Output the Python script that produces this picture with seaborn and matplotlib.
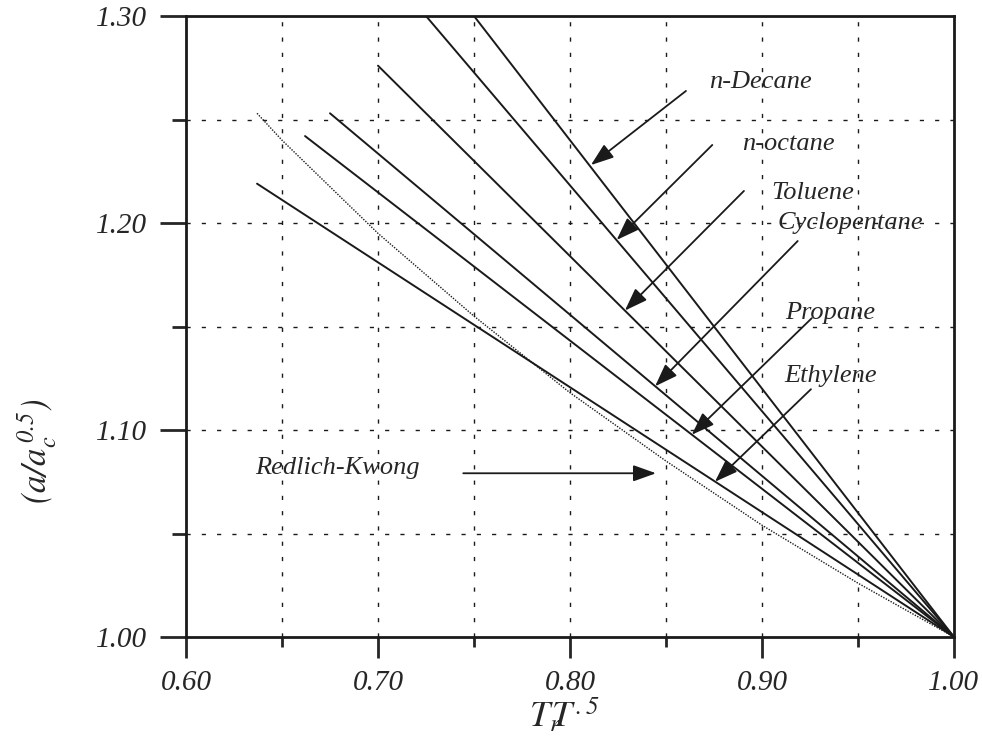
import matplotlib
matplotlib.use("Agg")
import matplotlib.pyplot as plt
import seaborn as sns
import pandas as pd

# start points of the straight lines (all end at Tr = 1.0, ratio = 1.0)
fluids = ["Ethylene", "Propane", "Cyclopentane", "Toluene", "n-octane", "n-Decane"]
x_start = [0.637, 0.662, 0.675, 0.700, 0.725, 0.750]
y_start = [1.219, 1.242, 1.253, 1.276, 1.300, 1.300]

# Redlich-Kwong curve
rk_x = [0.637, 0.65, 0.70, 0.75, 0.80, 0.85, 0.90, 0.95, 1.00]
rk_y = [1.253, 1.240, 1.195, 1.155, 1.118, 1.085, 1.054, 1.026, 1.000]

# label text position, arrow tail and arrow tip (data coords)
label_x = [0.9357, 0.9354, 0.9461, 0.9263, 0.9138, 0.8993, 0.6789]
label_y = [1.1261, 1.1565, 1.2000, 1.2145, 1.2382, 1.2681, 1.0816]
tail_x = [0.9255, 0.9259, 0.9186, 0.8906, 0.8741, 0.8604, 0.7444]
tail_y = [1.1197, 1.1540, 1.1913, 1.2155, 1.2377, 1.2638, 1.0791]
tip_x = [0.8755, 0.8634, 0.8443, 0.8286, 0.8243, 0.8109, 0.8448]
tip_y = [1.0750, 1.0977, 1.1211, 1.1577, 1.1918, 1.2280, 1.0791]
labels = fluids + ["Redlich-Kwong"]

rows = []
for name, x0, y0 in zip(fluids, x_start, y_start):
    rows.append({"fluid": name, "Tr": x0, "ratio": y0})
    rows.append({"fluid": name, "Tr": 1.0, "ratio": 1.0})
df = pd.DataFrame(rows)
rk = pd.DataFrame({"Tr": rk_x, "ratio": rk_y})

sns.set_theme(style="white")
plt.rcParams["font.family"] = ["Liberation Serif", "DejaVu Serif"]
plt.rcParams["font.style"] = "italic"
plt.rcParams["mathtext.fontset"] = "stix"

fig = plt.figure(figsize=(9.82, 7.44), dpi=100)
ax = fig.add_axes([186 / 982, 1 - 637 / 744, (954 - 186) / 982, (637 - 16) / 744])

# grid first so it sits under the curves
for gx in [0.65, 0.70, 0.75, 0.80, 0.85, 0.90, 0.95]:
    ax.axvline(gx, color="k", lw=1.0, ls=(0, (3, 8)), zorder=0)
for gy in [1.05, 1.10, 1.15, 1.20, 1.25]:
    ax.axhline(gy, color="k", lw=1.0, ls=(0, (3, 8)), zorder=0)

sns.lineplot(data=df, x="Tr", y="ratio", units="fluid", estimator=None,
             color="k", lw=1.4, sort=False, ax=ax)
sns.lineplot(data=rk, x="Tr", y="ratio", color="k", lw=1.0,
             ls=(0, (1, 1)), ax=ax)

for lab, lx, ly, tx, ty, px, py in zip(labels, label_x, label_y, tail_x, tail_y, tip_x, tip_y):
    ax.annotate("", xy=(px, py), xytext=(tx, ty),
                arrowprops=dict(arrowstyle="-|>,head_length=0.7,head_width=0.25",
                                mutation_scale=20, color="k", lw=1.3,
                                shrinkA=0, shrinkB=0))
    ax.text(lx, ly, lab, ha="center", va="center", fontsize=19, style="italic")

ax.set_xlim(0.60, 1.00)
ax.set_ylim(1.00, 1.30)
ax.set_xticks([0.60, 0.70, 0.80, 0.90, 1.00])
ax.set_xticklabels(["0.60", "0.70", "0.80", "0.90", "1.00"])
ax.set_xticks([0.65, 0.75, 0.85, 0.95], minor=True)
ax.set_yticks([1.00, 1.10, 1.20, 1.30])
ax.set_yticklabels(["1.00", "1.10", "1.20", "1.30"])
ax.set_yticks([1.05, 1.15, 1.25], minor=True)
ax.tick_params(axis="x", which="major", direction="out", length=15, width=2,
               labelsize=21, pad=9, bottom=True)
ax.tick_params(axis="x", which="minor", direction="out", length=7, width=2, bottom=True)
ax.tick_params(axis="y", which="major", direction="out", length=19, width=2,
               labelsize=21, pad=9, left=True)
ax.tick_params(axis="y", which="minor", direction="out", length=10, width=2, left=True)
for lbl in ax.get_xticklabels() + ax.get_yticklabels():
    lbl.set_style("italic")
for sp in ax.spines.values():
    sp.set_color("k")
    sp.set_linewidth(2)
ax.set_xlabel("")
ax.set_ylabel("")

fig.text(37 / 982, 1 - 451 / 744, r"$(a/a_c^{\,0.5})$", rotation=90,
         ha="center", va="center", fontsize=25)
fig.text(565 / 982, 1 - 716 / 744, r"$T_r\!\!T^{.5}$", ha="center", va="center",
         fontsize=26)

fig.savefig("out.png", dpi=100)
